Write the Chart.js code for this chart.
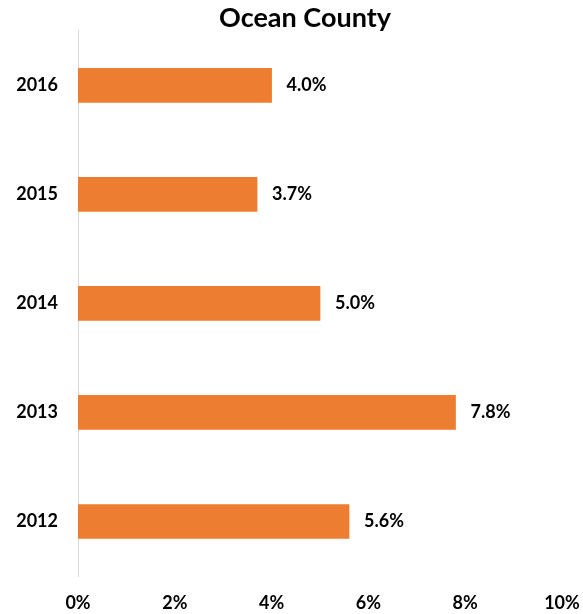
<!DOCTYPE html>
<html>
<head>
<meta charset="utf-8">
<script src="https://cdn.jsdelivr.net/npm/chart.js@4/dist/chart.umd.min.js"></script>
<style>
html,body{margin:0;padding:0;background:#fff;}
#wrap{width:583px;height:614px;}
</style>
</head>
<body>
<div id="wrap"><canvas id="c" width="583" height="614"></canvas></div>
<script>
const categories = ["2016", "2015", "2014", "2013", "2012"];
const values = [4.0, 3.7, 5.0, 7.8, 5.6];
const xTicks = [0, 2, 4, 6, 8, 10];
const titleText = "Ocean County";

const FONT = "Lato, 'Liberation Sans', sans-serif";

const labelPlugin = {
  id: 'barLabels',
  afterDatasetsDraw(chart) {
    const ctx = chart.ctx;
    const meta = chart.getDatasetMeta(0);
    ctx.save();
    ctx.font = "bold 18px " + FONT;
    ctx.fillStyle = "#000";
    ctx.textAlign = "left";
    ctx.textBaseline = "middle";
    meta.data.forEach((bar, i) => {
      ctx.fillText(values[i].toFixed(1) + "%", bar.x + 15, bar.y);
    });
    ctx.restore();
  }
};

const titleShift = {
  id: 'titleShift',
  afterLayout(chart) {
    const t = chart.titleBlock;
    if (t) {
      t.left = 48;
      t.right = chart.chartArea.right;
      t.width = t.right - t.left;
    }
  }
};

new Chart(document.getElementById('c'), {
  type: 'bar',
  data: {
    labels: categories,
    datasets: [{
      data: values,
      backgroundColor: '#ED7D31',
      borderWidth: 0,
      barThickness: 34
    }]
  },
  options: {
    indexAxis: 'y',
    responsive: false,
    animation: false,
    layout: { padding: { left: 0, right: 0, top: 0, bottom: 0 } },
    plugins: {
      legend: { display: false },
      tooltip: { enabled: false },
      title: {
        display: true,
        text: titleText,
        color: '#000',
        font: { family: FONT, size: 27, weight: 'bold', lineHeight: 0.9 },
        padding: { top: 6, bottom: 0 }
      }
    },
    scales: {
      x: {
        min: 0, max: 10,
        afterBuildTicks(scale) { scale.ticks = xTicks.map(v => ({ value: v })); },
        afterFit(scale) { scale.height = 38; scale.paddingRight = 21; scale.paddingLeft = 0; },
        grid: { display: false, drawTicks: false },
        border: { display: false },
        ticks: {
          padding: 16,
          color: '#000',
          font: { family: FONT, size: 18, weight: 'bold' },
          callback: v => v + '%'
        }
      },
      y: {
        afterFit(scale) { scale.width = 78; },
        grid: { display: false, drawTicks: false },
        border: { display: true, color: '#D9D9D9', width: 1 },
        ticks: {
          padding: 20,
          color: '#000',
          font: { family: FONT, size: 18, weight: 'bold' }
        }
      }
    }
  },
  plugins: [labelPlugin, titleShift]
});
</script>
</body>
</html>
